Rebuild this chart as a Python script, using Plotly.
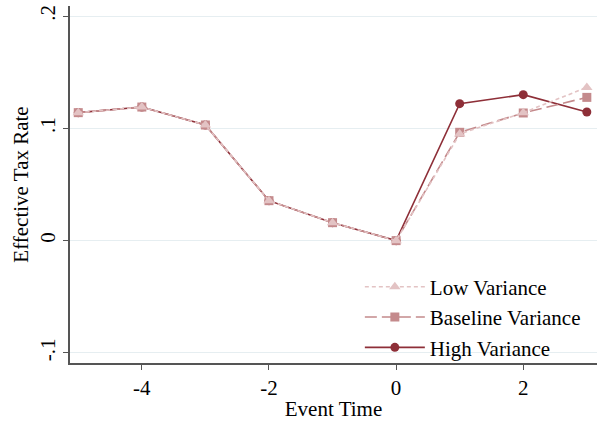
import plotly.graph_objects as go

# Event-time profile of the effective tax rate under three variance scenarios
event_time = [-5, -4, -3, -2, -1, 0, 1, 2, 3]
low_variance = [0.114, 0.119, 0.103, 0.0356, 0.016, 0.0, 0.095, 0.114, 0.1365]
baseline_variance = [0.114, 0.119, 0.103, 0.0356, 0.016, 0.0, 0.0965, 0.1137, 0.1276]
high_variance = [0.114, 0.119, 0.103, 0.0356, 0.016, 0.0, 0.122, 0.130, 0.1146]

y_ticks = [-0.1, 0, 0.1, 0.2]
y_tick_text = ["-.1", "0", ".1", ".2"]
x_ticks = [-4, -2, 0, 2]
x_tick_text = ["-4", "-2", "0", "2"]

FONT = "Liberation Serif"
FS = 21

fig = go.Figure()

# Draw order: high first, then baseline, then low on top
fig.add_trace(go.Scatter(
    x=event_time, y=high_variance, name="High Variance", mode="lines+markers",
    line=dict(color="#8e2f38", width=1.6),
    marker=dict(symbol="circle", size=9, color="#8e2f38"),
    legendrank=3,
))
fig.add_trace(go.Scatter(
    x=event_time, y=baseline_variance, name="Baseline Variance", mode="lines+markers",
    line=dict(color="#c48a8c", width=1.6, dash="12px,5px"),
    marker=dict(symbol="square", size=9, color="#c48a8c"),
    legendrank=2,
))
fig.add_trace(go.Scatter(
    x=event_time, y=low_variance, name="Low Variance", mode="lines+markers",
    line=dict(color="#e3c3c4", width=1.6, dash="4px,3px"),
    marker=dict(symbol="triangle-up", size=10, color="#e3c3c4"),
    legendrank=1,
))

fig.update_layout(
    width=597, height=426,
    margin=dict(l=70, r=0, t=6, b=63),
    paper_bgcolor="white", plot_bgcolor="white",
    font=dict(family=FONT, size=FS, color="black"),
    legend=dict(
        x=0.55, y=0.27, xanchor="left", yanchor="top",
        bgcolor="rgba(0,0,0,0)", itemwidth=60, tracegroupgap=0,
        font=dict(family=FONT, size=FS, color="black"),
    ),
    xaxis=dict(
        range=[-5.13, 3.16], tickvals=x_ticks, ticktext=x_tick_text,
        showgrid=False, zeroline=False,
        showline=True, linecolor="#555555", linewidth=1.5,
        ticks="outside", ticklen=5, tickcolor="#555555",
        tickfont=dict(family=FONT, size=FS),
        title=dict(text="Event Time", font=dict(family=FONT, size=FS), standoff=2),
    ),
    yaxis=dict(
        range=[-0.109, 0.209], tickvals=y_ticks, ticktext=y_tick_text,
        showgrid=True, gridcolor="#e6eef1", gridwidth=1, zeroline=False,
        showline=True, linecolor="#555555", linewidth=1.5,
        ticks="outside", ticklen=5, tickcolor="#555555", tickangle=-90,
        tickfont=dict(family=FONT, size=FS),
        title=dict(text="Effective Tax Rate", font=dict(family=FONT, size=FS), standoff=1),
    ),
)

fig.write_html("out.html")
